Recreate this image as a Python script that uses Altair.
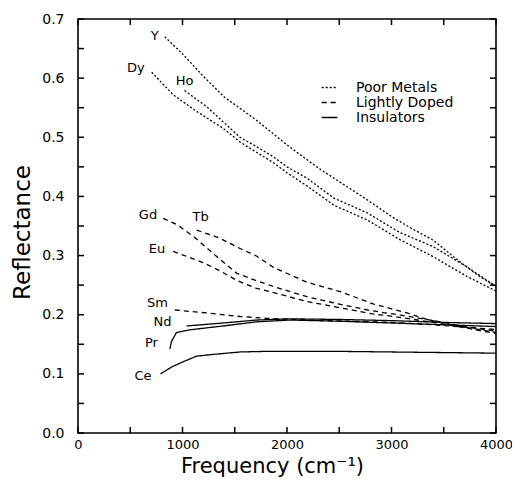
import altair as alt
import pandas as pd

# ---------------- data ----------------
Y_x = [830, 1000, 1200, 1400, 1700, 2000, 2300, 2500, 2770, 3000, 3200, 3400, 3600, 3800, 4000]
Y_y = [0.670, 0.641, 0.603, 0.568, 0.530, 0.487, 0.448, 0.425, 0.394, 0.366, 0.345, 0.326, 0.297, 0.270, 0.247]

Ho_x = [1020, 1230, 1390, 1550, 1700, 1870, 2000, 2190, 2450, 2770, 3080, 3400, 3720, 4000]
Ho_y = [0.579, 0.552, 0.526, 0.500, 0.485, 0.467, 0.450, 0.431, 0.397, 0.372, 0.339, 0.315, 0.281, 0.248]

Dy_x = [705, 910, 1100, 1230, 1390, 1550, 1870, 2000, 2190, 2450, 2770, 3080, 3400, 3720, 4000]
Dy_y = [0.610, 0.572, 0.548, 0.533, 0.515, 0.492, 0.457, 0.440, 0.418, 0.385, 0.360, 0.327, 0.298, 0.265, 0.240]

Gd_x = [815, 950, 1100, 1200, 1350, 1520, 1700, 1900, 2200, 2500, 2800, 3100, 3400, 3700, 4000]
Gd_y = [0.363, 0.352, 0.333, 0.318, 0.295, 0.270, 0.258, 0.246, 0.230, 0.218, 0.207, 0.199, 0.190, 0.180, 0.172]

Tb_x = [1135, 1350, 1550, 1700, 1870, 2190, 2510, 2830, 3150, 3340, 3600, 4000]
Tb_y = [0.343, 0.330, 0.312, 0.300, 0.280, 0.255, 0.239, 0.218, 0.203, 0.192, 0.182, 0.170]

Eu_x = [911, 1050, 1200, 1350, 1520, 1700, 1900, 2200, 2500, 2800, 3100, 3400, 3700, 4000]
Eu_y = [0.307, 0.298, 0.288, 0.275, 0.258, 0.245, 0.236, 0.222, 0.212, 0.202, 0.195, 0.187, 0.178, 0.168]

Sm_x = [927, 1230, 1550, 1800, 2200, 2600, 3000, 3400, 3700, 4000]
Sm_y = [0.208, 0.203, 0.197, 0.194, 0.191, 0.189, 0.187, 0.183, 0.179, 0.175]

Nd_x = [1039, 1390, 1710, 2030, 2500, 3000, 3500, 4000]
Nd_y = [0.181, 0.186, 0.191, 0.193, 0.192, 0.190, 0.187, 0.185]

Pr_x = [879, 895, 943, 1071, 1390, 1710, 2030, 2500, 3000, 3500, 4000]
Pr_y = [0.142, 0.155, 0.170, 0.1745, 0.181, 0.188, 0.191, 0.189, 0.186, 0.183, 0.180]

Ce_x = [790, 900, 1000, 1135, 1300, 1550, 1800, 2500, 3000, 4000]
Ce_y = [0.100, 0.112, 0.120, 0.130, 0.133, 0.137, 0.138, 0.138, 0.137, 0.135]

series = {
    "Y": (Y_x, Y_y, "Poor Metals"),
    "Ho": (Ho_x, Ho_y, "Poor Metals"),
    "Dy": (Dy_x, Dy_y, "Poor Metals"),
    "Gd": (Gd_x, Gd_y, "Lightly Doped"),
    "Tb": (Tb_x, Tb_y, "Lightly Doped"),
    "Eu": (Eu_x, Eu_y, "Lightly Doped"),
    "Sm": (Sm_x, Sm_y, "Lightly Doped"),
    "Nd": (Nd_x, Nd_y, "Insulators"),
    "Pr": (Pr_x, Pr_y, "Insulators"),
    "Ce": (Ce_x, Ce_y, "Insulators"),
}
groups = ["Poor Metals", "Lightly Doped", "Insulators"]

x_ticks = [0, 500, 1000, 1500, 2000, 2500, 3000, 3500, 4000]
y_ticks = [0.0, 0.05, 0.1, 0.15, 0.2, 0.25, 0.3, 0.35, 0.4, 0.45, 0.5, 0.55, 0.6, 0.65, 0.7]
x_labels = [0, 1000, 2000, 3000, 4000]
y_labels = [0.0, 0.1, 0.2, 0.3, 0.4, 0.5, 0.6, 0.7]

# ---------------- styling ----------------
W, H = 418, 414
FONT = "DejaVu Sans"
TICK = 6
# label placement relative to each curve's first point: (align, dx, dy)
label_style = {
    "Y": ("right", -6, -1),
    "Dy": ("right", -7, -4),
    "Ho": ("center", 0, -10),
    "Gd": ("right", -6, -3),
    "Tb": ("center", 4, -13),
    "Eu": ("right", -8, -2),
    "Sm": ("right", -7, -7),
    "Nd": ("right", -15, -4),
    "Pr": ("right", -12, -6),
    "Ce": ("right", -9, 2),
}

rows = []
for name, (xs_, ys_, grp) in series.items():
    for xv, yv in zip(xs_, ys_):
        rows.append({"series": name, "group": grp, "x": xv, "y": yv})
df = pd.DataFrame(rows)

lab_df = pd.DataFrame([
    {"series": n, "x": v[0][0], "y": v[1][0]} for n, v in series.items()
])

xs = alt.Scale(domain=[0, 4000], nice=False, zero=False)
ys = alt.Scale(domain=[0, 0.7], nice=False, zero=False)

x_axis = alt.Axis(values=x_labels, format="d", ticks=False, domain=False, grid=False,
                  labelFlush=False, labelFontSize=13, labelFont=FONT, labelPadding=5,
                  labelColor="black",
                  title="Frequency  (cm⁻¹)", titleFont=FONT, titleFontSize=21,
                  titleFontWeight="normal", titleColor="black",
                  titleX=194, titleY=39, titleBaseline="alphabetic", titleAlign="center")
y_axis = alt.Axis(values=y_labels, format=".1f", ticks=False, domain=False, grid=False,
                  labelFlush=False, labelFontSize=14, labelFont=FONT, labelPadding=14,
                  labelColor="black",
                  title="Reflectance", titleFont=FONT, titleFontSize=23,
                  titleFontWeight="normal", titleColor="black",
                  titleX=-56, titleY=213, titleBaseline="middle", titleAlign="center",
                  titleAngle=-90)

lines = alt.Chart(df).mark_line(color="black", strokeWidth=1.3).encode(
    x=alt.X("x:Q", scale=xs, axis=x_axis),
    y=alt.Y("y:Q", scale=ys, axis=y_axis),
    detail="series:N",
    strokeDash=alt.StrokeDash(
        "group:N",
        scale=alt.Scale(domain=groups, range=[[2, 2], [5, 4], [1, 0]]),
        legend=alt.Legend(title=None, orient="none", legendX=244, legendY=61,
                          symbolType="M-1.2,0H1.2", symbolSize=169,
                          symbolStrokeWidth=1.5, symbolStrokeColor="black",
                          labelFont=FONT, labelFontSize=14, labelColor="black",
                          rowPadding=-1, labelOffset=19),
    ),
    order="x:Q",
)

labels = []
for name, (al, dx, dy) in label_style.items():
    labels.append(
        alt.Chart(lab_df).transform_filter(alt.datum.series == name)
        .mark_text(align=al, baseline="middle", dx=dx, dy=dy, font=FONT,
                   fontSize=13, color="black")
        .encode(x=alt.X("x:Q", scale=xs), y=alt.Y("y:Q", scale=ys), text="series:N")
    )

xt = pd.DataFrame({"v": x_ticks})
yt = pd.DataFrame({"v": y_ticks})
tick_layers = [
    alt.Chart(xt).mark_rule(color="black", strokeWidth=1.5).encode(
        x=alt.X("v:Q", scale=xs), y=alt.value(H), y2=alt.value(H - TICK)),
    alt.Chart(xt).mark_rule(color="black", strokeWidth=1.5).encode(
        x=alt.X("v:Q", scale=xs), y=alt.value(0), y2=alt.value(TICK)),
    alt.Chart(yt).mark_rule(color="black", strokeWidth=1.5).encode(
        y=alt.Y("v:Q", scale=ys), x=alt.value(0), x2=alt.value(TICK)),
    alt.Chart(yt).mark_rule(color="black", strokeWidth=1.5).encode(
        y=alt.Y("v:Q", scale=ys), x=alt.value(W), x2=alt.value(W - TICK)),
]

chart = alt.layer(lines, *labels, *tick_layers).properties(
    width=W, height=H,
    autosize=alt.AutoSizeParams(type="none"),
    padding={"left": 70, "top": 11, "right": 16, "bottom": 44},
    background="white",
).configure_view(stroke="black", strokeWidth=1.6)

chart.save("out.html", embed_options={"renderer": "svg", "actions": False})
